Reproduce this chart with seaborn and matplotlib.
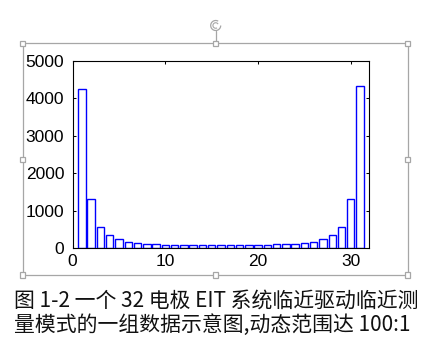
import matplotlib
matplotlib.use('Agg')
import matplotlib.pyplot as plt
import seaborn as sns
from matplotlib.patches import Rectangle, Arc

electrodes = list(range(1, 32))
values = [4250, 1300, 560, 347, 240, 160, 134, 107, 107,
          80, 80, 80, 80, 80, 80, 80, 80, 80, 80, 80, 80,
          107, 107, 107, 134, 160, 240, 347, 560, 1300, 4320]
x_ticks = [0, 10, 20, 30]
y_ticks = [0, 1000, 2000, 3000, 4000, 5000]
caption_line1 = "图 1-2 一个 32 电极 EIT 系统临近驱动临近测"
caption_line2 = "量模式的一组数据示意图,动态范围达 100:1"

sns.set_style('ticks')
plt.rcParams['font.family'] = ['Noto Sans CJK SC', 'DejaVu Sans']

fig = plt.figure(figsize=(4.35, 3.57), dpi=100)
fig.patch.set_facecolor('white')

# selection frame drawn round the figure (pixel coordinates)
bg = fig.add_axes([0, 0, 1, 1], zorder=0)
bg.set_xlim(0, 435)
bg.set_ylim(357, 0)
bg.axis('off')
gray = '#a6a6a6'
bg.add_patch(Rectangle((22.7, 43.3), 385, 231.7, fill=False, ec=gray, lw=0.9))
handles = [(22.7, 43.3), (215.7, 43.3), (407.7, 43.3), (22.7, 159.5),
           (407.7, 159.5), (22.7, 275), (215.7, 275), (407.7, 275)]
for hx, hy in handles:
    bg.add_patch(Rectangle((hx - 2.7, hy - 2.7), 5.4, 5.4, fc='white', ec=gray, lw=0.9, zorder=3))
bg.plot([215.7, 215.7], [30.5, 43.3], color=gray, lw=0.9)
bg.add_patch(Arc((215.7, 25.5), 10, 10, theta1=0, theta2=300, ec=gray, lw=0.9))
bg.add_patch(Arc((215.7, 25.5), 5.5, 5.5, theta1=60, theta2=330, ec=gray, lw=0.8))

# the chart
ax = fig.add_axes([0.167, 0.305, 0.682, 0.524], zorder=1)
sns.barplot(x=electrodes, y=values, native_scale=True, width=0.8,
            color='white', edgecolor='blue', linewidth=1.0, ax=ax)
ax.set_xlim(0, 32)
ax.set_ylim(0, 5000)
ax.set_xticks(x_ticks)
ax.set_yticks(y_ticks)
ax.set_xlabel('')
ax.set_ylabel('')
ax.tick_params(direction='in', top=True, right=True, length=2.5, width=0.75,
               labelsize=12.5, labelfontfamily='Liberation Sans', colors='black')
ax.tick_params(axis='y', pad=6)
ax.tick_params(axis='x', pad=4.5)
for s in ax.spines.values():
    s.set_visible(True)
    s.set_color('black')
    s.set_linewidth(0.8)

# caption
fig.text(14 / 435, 1 - 300.5 / 357, caption_line1, fontsize=15, va='center', ha='left', color='#111111')
fig.text(14 / 435, 1 - 324.5 / 357, caption_line2, fontsize=15, va='center', ha='left', color='#111111')

fig.savefig('out.png', dpi=100)
